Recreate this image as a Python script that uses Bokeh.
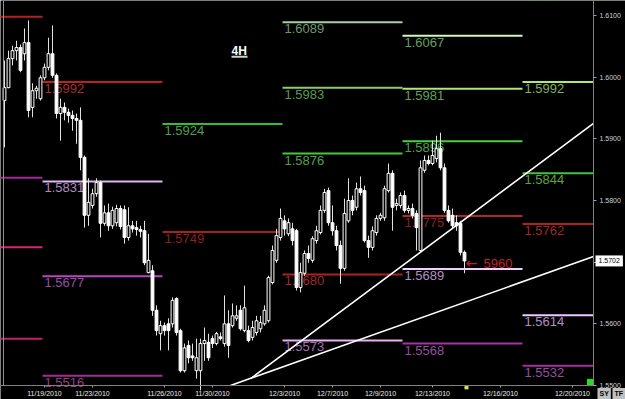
from bokeh.plotting import figure
from bokeh.models import FixedTicker, Range1d, PrintfTickFormatter, Label, LinearAxis
from bokeh.core.properties import value
from bokeh.embed import file_html
from bokeh.resources import INLINE

# ---- 4H candles ----
opens = [1.5962, 1.5983, 1.6030, 1.6043, 1.6048, 1.6038, 1.6056, 1.5951, 1.5978, 1.5965,
         1.5999, 1.6016, 1.6038, 1.6003, 1.5941, 1.5951, 1.5943, 1.5938, 1.5933, 1.5930,
         1.5870, 1.5776, 1.5792, 1.5811, 1.5829, 1.5763, 1.5780, 1.5759, 1.5764, 1.5787,
         1.5785, 1.5740, 1.5759, 1.5756, 1.5753, 1.5751, 1.5683, 1.5686, 1.5622, 1.5584,
         1.5597, 1.5600, 1.5600, 1.5641, 1.5589, 1.5524, 1.5565, 1.5548, 1.5524, 1.5524,
         1.5568, 1.5570, 1.5576, 1.5568, 1.5579, 1.5568, 1.5600, 1.5597, 1.5609, 1.5622,
         1.5589, 1.5589, 1.5578, 1.5586, 1.5592, 1.5600, 1.5605, 1.5667, 1.5703, 1.5740,
         1.5767, 1.5746, 1.5754, 1.5751, 1.5659, 1.5682, 1.5714, 1.5703, 1.5735, 1.5748,
         1.5784, 1.5816, 1.5764, 1.5751, 1.5727, 1.5690, 1.5767, 1.5800, 1.5789, 1.5819,
         1.5816, 1.5735, 1.5724, 1.5748, 1.5771, 1.5772, 1.5816, 1.5844, 1.5792, 1.5792,
         1.5808, 1.5784, 1.5787, 1.5779, 1.5719, 1.5849, 1.5865, 1.5860, 1.5868, 1.5884,
         1.5853, 1.5784, 1.5776, 1.5764, 1.5763, 1.5716]
highs = [1.6027, 1.6043, 1.6051, 1.6059, 1.6053, 1.6079, 1.6092, 1.5990, 1.5986, 1.6003,
         1.6022, 1.6064, 1.6084, 1.6006, 1.5965, 1.5959, 1.5949, 1.5946, 1.5941, 1.5951,
         1.5873, 1.5836, 1.5819, 1.5836, 1.5832, 1.5792, 1.5795, 1.5790, 1.5793, 1.5792,
         1.5792, 1.5789, 1.5767, 1.5767, 1.5759, 1.5767, 1.5746, 1.5695, 1.5630, 1.5605,
         1.5602, 1.5609, 1.5643, 1.5643, 1.5592, 1.5568, 1.5573, 1.5568, 1.5576, 1.5576,
         1.5594, 1.5584, 1.5581, 1.5587, 1.5586, 1.5646, 1.5622, 1.5633, 1.5630, 1.5630,
         1.5662, 1.5597, 1.5605, 1.5613, 1.5613, 1.5630, 1.5678, 1.5727, 1.5754, 1.5787,
         1.5776, 1.5771, 1.5764, 1.5754, 1.5699, 1.5719, 1.5727, 1.5742, 1.5759, 1.5792,
         1.5819, 1.5821, 1.5792, 1.5759, 1.5735, 1.5803, 1.5836, 1.5808, 1.5829, 1.5839,
         1.5824, 1.5743, 1.5758, 1.5776, 1.5780, 1.5824, 1.5860, 1.5849, 1.5803, 1.5813,
         1.5816, 1.5792, 1.5795, 1.5784, 1.5865, 1.5873, 1.5873, 1.5897, 1.5905, 1.5910,
         1.5860, 1.5792, 1.5787, 1.5776, 1.5767, 1.5719]
lows = [1.5886, 1.5982, 1.6019, 1.6027, 1.6008, 1.6027, 1.5935, 1.5935, 1.5965, 1.5962,
        1.5995, 1.6011, 1.5999, 1.5933, 1.5897, 1.5930, 1.5926, 1.5913, 1.5892, 1.5849,
        1.5756, 1.5759, 1.5787, 1.5806, 1.5740, 1.5759, 1.5751, 1.5754, 1.5758, 1.5753,
        1.5730, 1.5735, 1.5748, 1.5743, 1.5740, 1.5695, 1.5682, 1.5613, 1.5581, 1.5557,
        1.5581, 1.5557, 1.5594, 1.5581, 1.5521, 1.5521, 1.5536, 1.5540, 1.5511, 1.5492,
        1.5540, 1.5540, 1.5561, 1.5565, 1.5573, 1.5563, 1.5545, 1.5594, 1.5605, 1.5589,
        1.5586, 1.5570, 1.5573, 1.5581, 1.5586, 1.5597, 1.5602, 1.5664, 1.5699, 1.5735,
        1.5743, 1.5742, 1.5727, 1.5654, 1.5651, 1.5678, 1.5699, 1.5699, 1.5730, 1.5745,
        1.5780, 1.5759, 1.5743, 1.5719, 1.5665, 1.5686, 1.5764, 1.5776, 1.5784, 1.5808,
        1.5732, 1.5707, 1.5719, 1.5743, 1.5767, 1.5767, 1.5813, 1.5751, 1.5784, 1.5787,
        1.5780, 1.5779, 1.5771, 1.5719, 1.5716, 1.5845, 1.5857, 1.5857, 1.5862, 1.5849,
        1.5780, 1.5764, 1.5754, 1.5751, 1.5711, 1.5682]
closes = [1.5983, 1.6030, 1.6043, 1.6048, 1.6011, 1.6056, 1.5946, 1.5978, 1.5982, 1.5999,
          1.6016, 1.6038, 1.6003, 1.5941, 1.5951, 1.5943, 1.5938, 1.5933, 1.5930, 1.5870,
          1.5776, 1.5797, 1.5811, 1.5829, 1.5763, 1.5780, 1.5759, 1.5784, 1.5787, 1.5758,
          1.5740, 1.5759, 1.5754, 1.5753, 1.5750, 1.5699, 1.5703, 1.5622, 1.5589, 1.5597,
          1.5589, 1.5589, 1.5638, 1.5586, 1.5524, 1.5561, 1.5545, 1.5545, 1.5545, 1.5568,
          1.5573, 1.5545, 1.5568, 1.5584, 1.5576, 1.5600, 1.5565, 1.5613, 1.5613, 1.5592,
          1.5626, 1.5573, 1.5594, 1.5605, 1.5602, 1.5622, 1.5675, 1.5719, 1.5743, 1.5771,
          1.5754, 1.5764, 1.5735, 1.5659, 1.5683, 1.5714, 1.5706, 1.5738, 1.5751, 1.5784,
          1.5813, 1.5764, 1.5751, 1.5727, 1.5690, 1.5779, 1.5800, 1.5784, 1.5819, 1.5813,
          1.5735, 1.5724, 1.5751, 1.5771, 1.5776, 1.5819, 1.5844, 1.5789, 1.5795, 1.5808,
          1.5784, 1.5787, 1.5776, 1.5756, 1.5853, 1.5865, 1.5860, 1.5873, 1.5884, 1.5853,
          1.5784, 1.5767, 1.5759, 1.5759, 1.5716, 1.5702]

date_ticks = [10, 22, 40, 52, 70, 82, 94, 107, 124, 142]
date_labels = ["11/19/2010", "11/23/2010", "11/26/2010", "11/30/2010", "12/3/2010",
               "12/7/2010", "12/9/2010", "12/13/2010", "12/16/2010", "12/20/2010"]
price_ticks = [1.55, 1.56, 1.57, 1.58, 1.59, 1.60, 1.61]
last_price = 1.5702

# chart window: visible bars / prices inside the axes, plus the margin the axes sit in
bar_first, bar_last, bar_canvas_end = -1, 147.25, 155.25
price_low, price_high, price_canvas_low = 1.5500, 1.61243, 1.54773

# pivot levels of the previous week (their labels are off screen)
old_values = [1.6098, 1.5837, 1.5724, 1.5576]
old_start = [-20.5] * 4
old_end = [9.5] * 4
old_colors = ["#b82020", "#a02898", "#d02870", "#c02070"]

# weekly pivot levels with labels: value, start bar, end bar
level_values = [1.5992, 1.5831, 1.5677, 1.5516,
                1.5924, 1.5749,
                1.6089, 1.5983, 1.5876, 1.5680, 1.5573,
                1.6067, 1.5981, 1.5896, 1.5775, 1.5689, 1.5568,
                1.6141, 1.5992, 1.5844, 1.5762, 1.5614, 1.5532]
level_start = [9.5] * 4 + [39.5] * 2 + [69.5] * 5 + [99.5] * 6 + [129.5] * 6
level_end = [39.5] * 4 + [69.5] * 2 + [99.5] * 5 + [129.5] * 6 + [147.25] * 6
level_line_colors = ["#c02020", "#e0b8f0", "#c040c8", "#a03090",
                     "#30c030", "#a82020",
                     "#a8d0a0", "#90c878", "#48c838", "#b02020", "#e8b0f8",
                     "#d0f8c0", "#b0e870", "#48d040", "#b02828", "#f0d0ff", "#a830a8",
                     "#b0e870", "#b0e870", "#48c040", "#b02020", "#f0c8ff", "#a030a0"]
level_text_colors = ["#a03030", "#b08ac0", "#9050a0", "#904080",
                     "#50a050", "#8a2020",
                     "#6a9a70", "#5a9a50", "#50a050", "#a02a2a", "#a070b0",
                     "#60a060", "#60a060", "#50a050", "#8a2020", "#b090c0", "#9050a0",
                     "#60a060", "#80b060", "#60a040", "#9a2a2a", "#b090c0", "#9050a0"]

# trend lines
trend_x0 = [61.5, 56.5]
trend_y0 = [1.5511, 1.5500]
trend_x1 = [147.25, 147.25]
trend_y1 = [1.5925, 1.5709]

# annotations
note_x = [116.75]
note_y = [1.5698]
note_text_x = [119.75]
note_text = ["5960"]
tf_x = [56.75]
tf_y = [1.6053]
tf_line_x0 = [56.75]
tf_line_x1 = [60.75]
tf_line_y = [1.6033]

p = figure(width=625, height=399,
           x_range=Range1d(bar_first, bar_canvas_end), y_range=Range1d(price_canvas_low, price_high),
           output_backend="svg", toolbar_location=None, y_axis_location="right",
           background_fill_color="black", border_fill_color="black",
           min_border_left=0, min_border_top=0, min_border_right=0, min_border_bottom=0)
p.grid.visible = False
p.outline_line_color = None

# price axis on the right, drawn at the right edge of the chart window
p.yaxis.fixed_location = bar_last
p.yaxis.bounds = (price_low, price_high)
p.yaxis.ticker = FixedTicker(ticks=price_ticks)
p.yaxis.formatter = PrintfTickFormatter(format="%.4f")
p.yaxis.major_label_text_font = "Liberation Sans"
p.yaxis.major_label_text_font_size = "7px"
p.yaxis.major_label_text_color = "#d0d0d0"
p.yaxis.axis_line_color = "#808080"
p.yaxis.major_tick_line_color = "#a0a0a0"
p.yaxis.major_tick_out = 3
p.yaxis.major_tick_in = 0
p.yaxis.minor_tick_line_color = None
p.yaxis.major_label_standoff = 3

# time axis at the bottom of the chart window
p.xaxis.fixed_location = price_low
p.xaxis.bounds = (bar_first, bar_last)
p.xaxis.ticker = FixedTicker(ticks=date_ticks)
p.xaxis.major_label_overrides = {t: l for t, l in zip(date_ticks, date_labels)}
p.xaxis.major_label_text_font = "Liberation Sans"
p.xaxis.major_label_text_font_size = "7px"
p.xaxis.major_label_text_color = "#e8e8e8"
p.xaxis.axis_line_color = "#808080"
p.xaxis.major_tick_line_color = "#a0a0a0"
p.xaxis.major_tick_out = 2
p.xaxis.major_tick_in = 0
p.xaxis.minor_tick_line_color = None
p.xaxis.major_label_standoff = 2

# left border of the chart window
p.add_layout(LinearAxis(fixed_location=-0.25, bounds=(price_low, price_high),
                        ticker=FixedTicker(ticks=[]), axis_line_color="#909090",
                        major_tick_line_color=None, minor_tick_line_color=None,
                        major_label_text_font_size="0px"), "left")

# level lines and labels
p.segment(x0=old_start, y0=old_values, x1=old_end, y1=old_values,
          line_color=old_colors, line_width=2)
p.segment(x0=level_start, y0=level_values, x1=level_end, y1=level_values,
          line_color=level_line_colors, line_width=2)
p.text(x=level_start, y=level_values, text=[f"{v:.4f}" for v in level_values],
       text_color=level_text_colors, text_font=value("Liberation Sans"), text_font_size="13px",
       text_baseline="top", text_align="left", x_offset=2, y_offset=2)

# candles
idx = list(range(len(closes)))
up_x = [i for i in idx if closes[i] >= opens[i]]
dn_x = [i for i in idx if closes[i] < opens[i]]
p.segment(x0=idx, y0=highs, x1=idx, y1=lows, line_color="#e0e0e0", line_width=1)
p.vbar(x=up_x, width=0.7, top=[closes[i] for i in up_x], bottom=[opens[i] for i in up_x],
       fill_color="black", line_color="white", line_width=1)
p.vbar(x=dn_x, width=0.7, top=[opens[i] for i in dn_x], bottom=[closes[i] for i in dn_x],
       fill_color="white", line_color="white", line_width=1)

# trend lines
p.segment(x0=trend_x0, y0=trend_y0, x1=trend_x1, y1=trend_y1, line_color="white", line_width=1.6)

# arrow note
p.text(x=note_x, y=note_y, text=["\u2190"], text_color="#c02020", text_font=value("DejaVu Sans"),
       text_font_size="14px", text_baseline="middle", text_align="center")
p.text(x=note_text_x, y=note_y, text=note_text, text_color="#c02020",
       text_font=value("Liberation Sans"), text_font_size="13px", text_baseline="middle",
       text_align="left")

# timeframe tag
p.text(x=tf_x, y=tf_y, text=["4H"], text_color="white", text_font=value("Liberation Sans"),
       text_font_style="bold", text_font_size="12px", text_baseline="top", text_align="left")
p.segment(x0=tf_line_x0, y0=tf_line_y, x1=tf_line_x1, y1=tf_line_y, line_color="#d0d0d0", line_width=2)

# small status squares
p.rect(x=[146.5], y=[1.5505], width=7, height=7, width_units="screen", height_units="screen",
       fill_color="#20e020", line_color=None)
p.rect(x=[115.5], y=[1.5497], width=4, height=4, width_units="screen", height_units="screen",
       fill_color="#e0e060", line_color=None)

# current price tag and the two small buttons
p.add_layout(Label(x=595, x_units="screen", y=last_price, y_units="data", text="1.5702",
                   text_font="Liberation Sans", text_font_size="7px", text_color="black",
                   text_baseline="middle", background_fill_color="white", padding=3))
p.add_layout(Label(x=597, x_units="screen", y=6, y_units="screen", text="SY",
                   text_font="Liberation Sans", text_font_size="7px", text_font_style="bold",
                   text_color="black", text_baseline="middle", background_fill_color="#c0c0c0",
                   padding=2))
p.add_layout(Label(x=612, x_units="screen", y=6, y_units="screen", text="TF",
                   text_font="Liberation Sans", text_font_size="7px", text_font_style="bold",
                   text_color="black", text_baseline="middle", background_fill_color="#c0c0c0",
                   padding=2))

open("out.html", "w").write(file_html(p, INLINE))
